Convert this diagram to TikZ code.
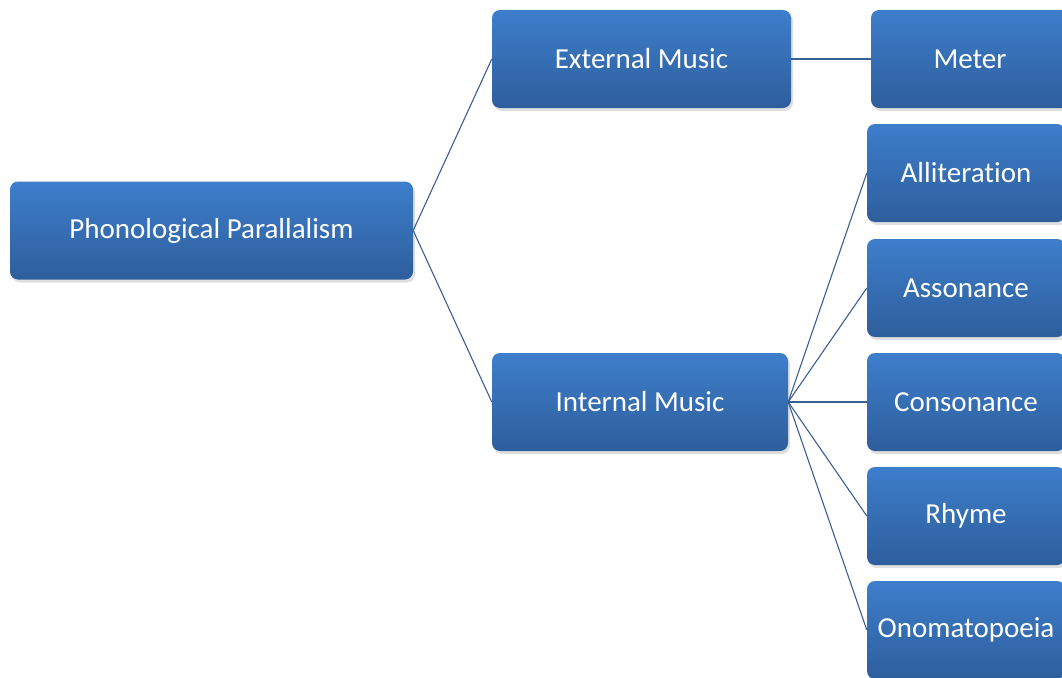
\documentclass[tikz,border=0pt]{standalone}
\usepackage{fontspec}
\setmainfont{Carlito}[Ligatures=NoCommon]
\usetikzlibrary{shadows}

\definecolor{boxtop}{HTML}{3D7ECB}
\definecolor{boxbottom}{HTML}{2E5E9C}
\definecolor{linkblue}{HTML}{3A5F92}

\tikzset{
  box/.style={rectangle,rounded corners=8pt,top color=boxtop,bottom color=boxbottom,
    text=white,font=\fontsize{29}{34}\selectfont,minimum height=98pt,inner sep=0pt,
    drop shadow={shadow xshift=2pt,shadow yshift=-3pt,opacity=0.25}},
  link/.style={draw=linkblue,line width=1.1pt}
}

\begin{document}
\begin{tikzpicture}[x=1pt,y=-1pt]
   \useasboundingbox (0,0) rectangle (1062,677);
   \clip (0,0) rectangle (1062,677);
   \node (phon)  at (211.5,230.5) [box,minimum width=403pt] {Phonological Parallalism};
   \node (ext)   at (641.5,59)    [box,minimum width=299pt] {External Music};
   \node (int)   at (640,402)     [box,minimum width=296pt] {Internal Music};
   \node (meter) at (970,59)      [box,minimum width=198pt] {Meter};
   \node (allit) at (966,173)     [box,minimum width=198pt] {Alliteration};
   \node (asson) at (966,288)     [box,minimum width=198pt] {Assonance};
   \node (conso) at (966,402)     [box,minimum width=198pt] {Consonance};
   \node (rhyme) at (966,516)     [box,minimum width=198pt] {Rhyme};
   \node (onoma) at (966,630)     [box,minimum width=198pt] {Onomatopoeia};
   \draw[link] (phon.east) to (ext.west);
   \draw[link] (phon.east) to (int.west);
   \draw[link] (ext.east)  to (meter.west);
   \draw[link] (int.east)  to (allit.west);
   \draw[link] (int.east)  to (asson.west);
   \draw[link] (int.east)  to (conso.west);
   \draw[link] (int.east)  to (rhyme.west);
   \draw[link] (int.east)  to (onoma.west);
\end{tikzpicture}
\end{document}
